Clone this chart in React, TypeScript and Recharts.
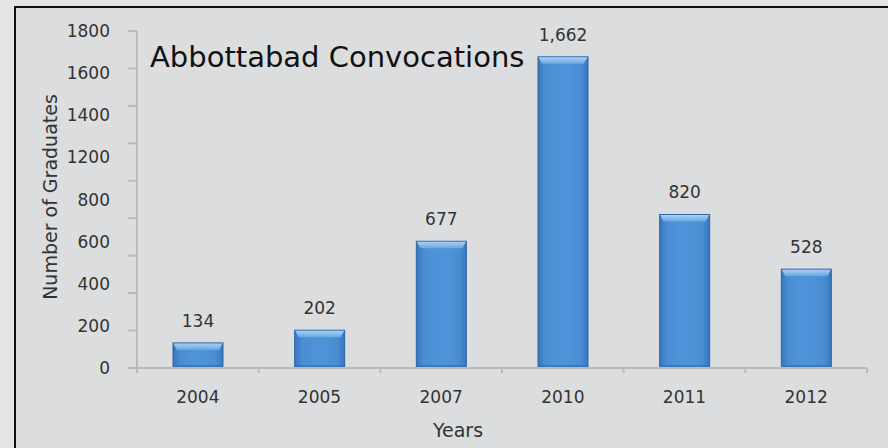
import React from "react";
import { ComposedChart, Bar, Line, XAxis, YAxis, LabelList } from "recharts";

const years = ["2004", "2005", "2007", "2010", "2011", "2012"];
const graduates = [134, 202, 677, 1662, 820, 528];
// value ticks on the axis line
const yTicks = [0, 200, 400, 600, 800, 1000, 1200, 1400, 1600, 1800];
// the labels as printed in the original (1000 is missing, spread evenly)
const yLabels = ["0", "200", "400", "600", "800", "1200", "1400", "1600", "1800"];
const yLabelSlots = yLabels.map((_, i) => i);

const data = years.map((year, i) => ({ year, graduates: graduates[i] }));

const W = 888;
const H = 448;
const PLOT_LEFT = 137;
const PLOT_RIGHT = 867;
const STEP = (PLOT_RIGHT - PLOT_LEFT) / years.length;
const FONT = "'DejaVu Sans', Verdana, sans-serif";
const AXIS = "#b9babc";
const INK = "#333";

const BeveledBar = (props: any) => {
  const { x, y, width, height } = props;
  if (!height || height <= 0) return null;
  const bev = Math.min(7, height / 3);
  return (
    <g>
      <rect x={x} y={y} width={width} height={height} fill="url(#barBody)" stroke="#2c65a6" strokeWidth={1} />
      <polygon
        points={`${x + 0.5},${y + 0.5} ${x + width - 0.5},${y + 0.5} ${x + width - 4},${y + bev} ${x + 4},${y + bev}`}
        fill="url(#barTop)"
      />
      <rect x={x + 0.5} y={y + height - 3} width={width - 1} height={2.5} fill="#336fb1" opacity={0.7} />
    </g>
  );
};

const XTick = (props: any) => {
  const { x, y, payload, index } = props;
  const left = x - STEP / 2;
  return (
    <g>
      <line x1={left} y1={y - 8} x2={left} y2={y - 3} stroke={AXIS} strokeWidth={2} />
      {index === years.length - 1 && (
        <line x1={x + STEP / 2} y1={y - 8} x2={x + STEP / 2} y2={y - 3} stroke={AXIS} strokeWidth={2} />
      )}
      <text x={x} y={y + 27} textAnchor="middle" fontFamily={FONT} fontSize={17} fill={INK}>
        {payload.value}
      </text>
    </g>
  );
};

const YLabelTick = (props: any) => {
  const { x, y, payload } = props;
  return (
    <text x={x} y={y} dy={6} textAnchor="end" fontFamily={FONT} fontSize={17} fill={INK}>
      {yLabels[payload.value]}
    </text>
  );
};

export default function App() {
  return (
    <div style={{ position: "fixed", left: 0, top: 0, width: W, height: H, background: "#e4e5e7" }}>
      <div
        style={{
          position: "absolute",
          left: 14,
          top: 6,
          width: W - 14,
          height: H - 6,
          background: "#dcdddf",
          borderLeft: "2px solid #111",
          borderTop: "2px solid #111",
          boxSizing: "border-box",
        }}
      />
      <div style={{ position: "absolute", left: 0, top: 0 }}>
        <ComposedChart width={W} height={H} data={data} margin={{ top: 31, right: W - PLOT_RIGHT, bottom: 50, left: PLOT_LEFT - 60 }}>
          <defs>
            <linearGradient id="barBody" x1="0" y1="0" x2="1" y2="0">
              <stop offset="0%" stopColor="#3877bd" />
              <stop offset="15%" stopColor="#4a8dd3" />
              <stop offset="50%" stopColor="#4f94da" />
              <stop offset="85%" stopColor="#4a8dd3" />
              <stop offset="100%" stopColor="#3877bd" />
            </linearGradient>
            <linearGradient id="barTop" x1="0" y1="0" x2="0" y2="1">
              <stop offset="0%" stopColor="#a9d0f2" />
              <stop offset="100%" stopColor="#6aa6e2" />
            </linearGradient>
          </defs>
          <XAxis
            dataKey="year"
            height={30}
            stroke={AXIS}
            strokeWidth={2}
            tickLine={false}
            tick={<XTick />}
            interval={0}
          />
          <YAxis
            yAxisId="a"
            width={10}
            domain={[0, 1800]}
            ticks={yTicks}
            interval={0}
            stroke={AXIS}
            strokeWidth={2}
            tickSize={9}
            tickFormatter={() => ""}
          />
          <YAxis
            yAxisId="b"
            type="number"
            width={50}
            domain={[0, yLabels.length - 1]}
            allowDataOverflow
            ticks={yLabelSlots}
            interval={0}
            axisLine={false}
            tickLine={false}
            tickSize={0}
            tickMargin={17}
            tick={<YLabelTick />}
          />
          <Line
            yAxisId="b"
            dataKey="none"
            stroke="none"
            dot={false}
            activeDot={false}
            legendType="none"
            isAnimationActive={false}
          />
          <Bar yAxisId="a" dataKey="graduates" barSize={50} shape={<BeveledBar />} isAnimationActive={false}>
            <LabelList
              dataKey="graduates"
              position="top"
              offset={16}
              formatter={(v: any) => Number(v).toLocaleString("en-US")}
              fill={INK}
              fontSize={17}
              fontFamily={FONT}
            />
          </Bar>
          <text x={150} y={67} fontFamily={FONT} fontSize={29} fill="#111">
            Abbottabad Convocations
          </text>
          <text x={458} y={437} textAnchor="middle" fontFamily={FONT} fontSize={19} fill={INK}>
            Years
          </text>
          <text
            x={57}
            y={197}
            textAnchor="middle"
            transform="rotate(-90 57 197)"
            fontFamily={FONT}
            fontSize={19}
            fill={INK}
          >
            Number of Graduates
          </text>
        </ComposedChart>
      </div>
    </div>
  );
}
